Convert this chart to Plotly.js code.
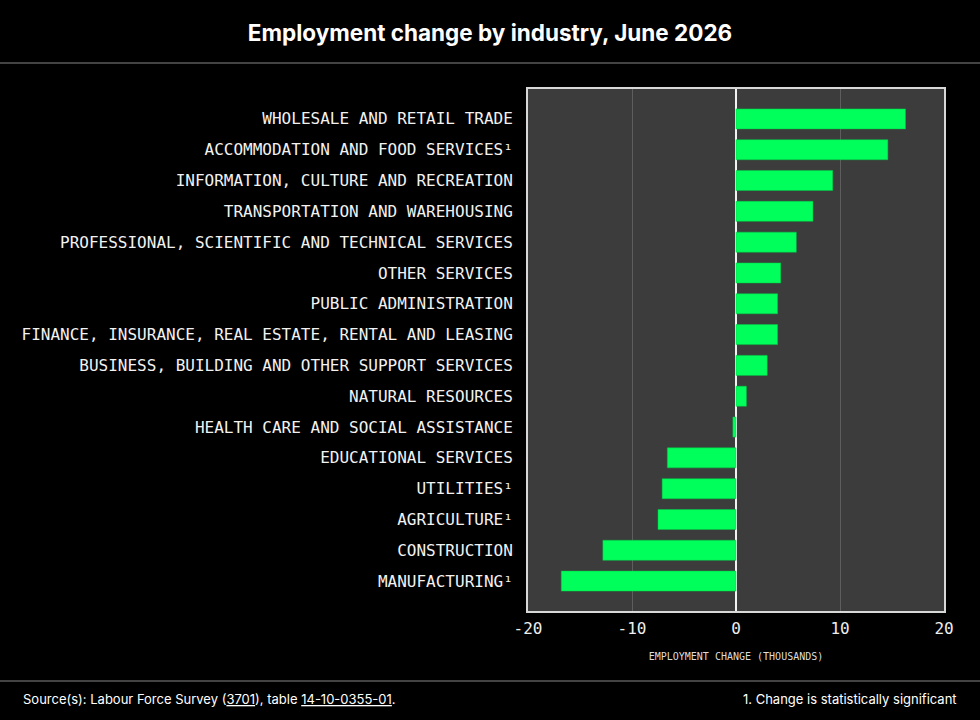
<!DOCTYPE html>
<html>
<head>
<meta charset="utf-8">
<script src="https://cdn.plot.ly/plotly-3.0.1.min.js"></script>
<style>
  html, body { margin: 0; padding: 0; background: #000; }
  #chart { width: 980px; height: 720px; }
</style>
</head>
<body>
<div id="chart"></div>
<script>
const industries = [
  "WHOLESALE AND RETAIL TRADE",
  "ACCOMMODATION AND FOOD SERVICES¹",
  "INFORMATION, CULTURE AND RECREATION",
  "TRANSPORTATION AND WAREHOUSING",
  "PROFESSIONAL, SCIENTIFIC AND TECHNICAL SERVICES",
  "OTHER SERVICES",
  "PUBLIC ADMINISTRATION",
  "FINANCE, INSURANCE, REAL ESTATE, RENTAL AND LEASING",
  "BUSINESS, BUILDING AND OTHER SUPPORT SERVICES",
  "NATURAL RESOURCES",
  "HEALTH CARE AND SOCIAL ASSISTANCE",
  "EDUCATIONAL SERVICES",
  "UTILITIES¹",
  "AGRICULTURE¹",
  "CONSTRUCTION",
  "MANUFACTURING¹"
];
const changeThousands = [16.3, 14.6, 9.3, 7.4, 5.8, 4.3, 4.0, 4.0, 3.0, 1.0, -0.3, -6.6, -7.1, -7.5, -12.8, -16.8];
const xTicks = [-20, -10, 0, 10, 20];

const mono = "DejaVu Sans Mono, Liberation Mono, monospace";
const sans = "Inter, Noto Sans, sans-serif";

const trace = {
  type: "bar",
  orientation: "h",
  y: industries,
  x: changeThousands,
  marker: { color: "#00ff5a", line: { color: "#00c847", width: 0.5 } },
  hoverinfo: "x+y"
};

const layout = {
  width: 980,
  height: 720,
  paper_bgcolor: "#000000",
  plot_bgcolor: "#3c3c3c",
  margin: { l: 528, r: 36, t: 89, b: 109 },
  bargap: 0.35,
  showlegend: false,
  title: {
    text: "<b>Employment change by industry, June 2026</b>",
    font: { family: sans, size: 22.5, color: "#ffffff" },
    x: 0.5, xref: "container", xanchor: "center",
    y: 1 - 33 / 720, yref: "container", yanchor: "middle"
  },
  xaxis: {
    range: [-20, 20],
    tickvals: xTicks,
    ticktext: xTicks.map(String),
    tickfont: { family: mono, size: 16, color: "#eeeeee" },
    showgrid: true,
    gridcolor: "#5e5e5e",
    gridwidth: 1,
    zeroline: true,
    zerolinecolor: "#f2f2f2",
    zerolinewidth: 2,
    showline: true,
    linecolor: "#d8d8d8",
    linewidth: 2,
    mirror: true,
    ticks: "",
    ticklabelstandoff: 2,
    fixedrange: true,
    title: {
      text: "EMPLOYMENT CHANGE (THOUSANDS)",
      font: { family: mono, size: 10, color: "#dddddd" },
      standoff: 16
    }
  },
  yaxis: {
    type: "category",
    range: [15.97, -0.97],
    tickfont: { family: mono, size: 16, color: "#f2f2f2" },
    showgrid: false,
    showline: true,
    linecolor: "#d8d8d8",
    linewidth: 2,
    mirror: true,
    ticks: "",
    ticklabelstandoff: 10,
    fixedrange: true
  },
  shapes: [
    { type: "line", xref: "paper", yref: "paper", x0: -1.3, x1: 1.1, y0: 1 + 26 / 522, y1: 1 + 26 / 522,
      line: { color: "#5a5a5a", width: 1.5 } },
    { type: "line", xref: "paper", yref: "paper", x0: -1.3, x1: 1.1, y0: -70 / 522, y1: -70 / 522,
      line: { color: "#5a5a5a", width: 1.5 } }
  ],
  annotations: [
    { xref: "paper", yref: "paper", x: -507 / 416, y: -88 / 522, xanchor: "left", yanchor: "middle",
      showarrow: false, align: "left",
      text: "Source(s): Labour Force Survey (<u>3701</u>), table <u>14-10-0355-01</u>.",
      font: { family: sans, size: 13, color: "#ffffff" } },
    { xref: "paper", yref: "paper", x: 431 / 416, y: -88 / 522, xanchor: "right", yanchor: "middle",
      showarrow: false, align: "right",
      text: "1. Change is statistically significant",
      font: { family: sans, size: 13, color: "#ffffff" } }
  ]
};

Plotly.newPlot("chart", [trace], layout, { displayModeBar: false, staticPlot: true });
</script>
</body>
</html>
